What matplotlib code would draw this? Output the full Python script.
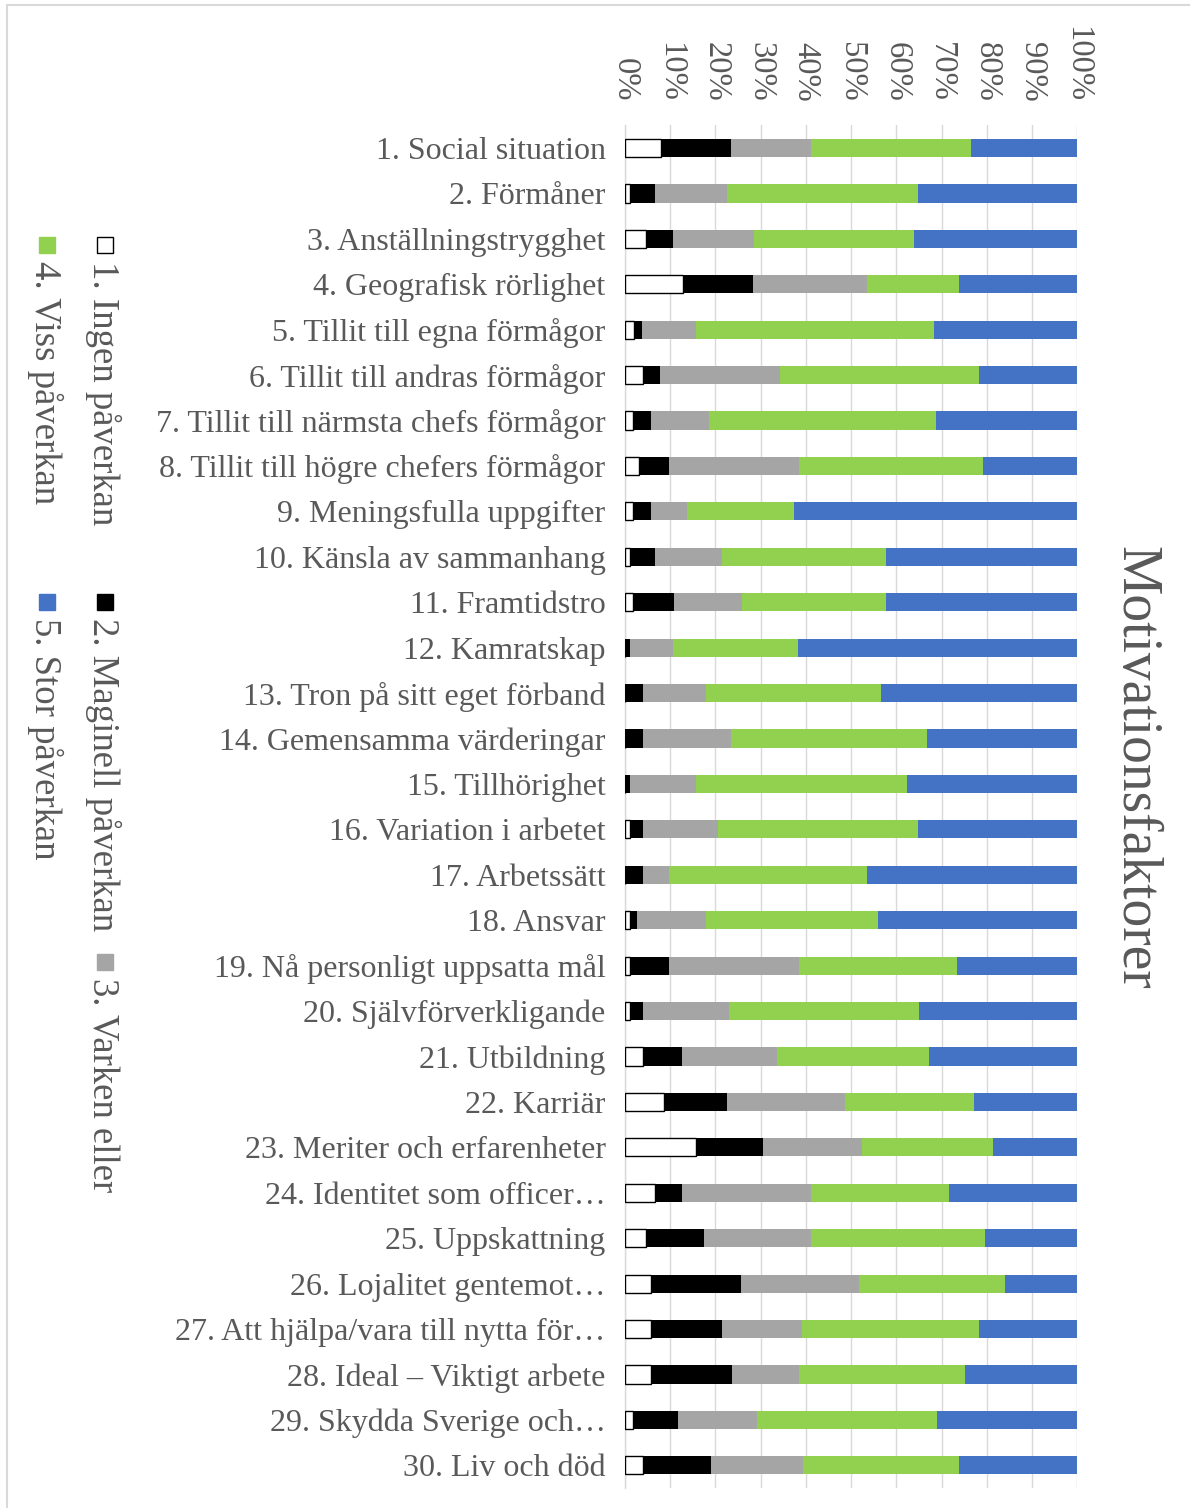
import numpy as np
import matplotlib
matplotlib.use("Agg")
from matplotlib import pyplot as plt
from matplotlib.patches import Rectangle
from matplotlib.lines import Line2D

plt.rcParams['font.family'] = ['Liberation Serif', 'DejaVu Serif']

faktorer = [
    "1. Social situation", "2. Förmåner", "3. Anställningstrygghet",
    "4. Geografisk rörlighet", "5. Tillit till egna förmågor",
    "6. Tillit till andras förmågor", "7. Tillit till närmsta chefs förmågor",
    "8. Tillit till högre chefers förmågor", "9. Meningsfulla uppgifter",
    "10. Känsla av sammanhang", "11. Framtidstro", "12. Kamratskap",
    "13. Tron på sitt eget förband", "14. Gemensamma värderingar",
    "15. Tillhörighet", "16. Variation i arbetet", "17. Arbetssätt",
    "18. Ansvar", "19. Nå personligt uppsatta mål", "20. Självförverkligande",
    "21. Utbildning", "22. Karriär", "23. Meriter och erfarenheter",
    "24. Identitet som officer…", "25. Uppskattning", "26. Lojalitet gentemot…",
    "27. Att hjälpa/vara till nytta för…", "28. Ideal – Viktigt arbete",
    "29. Skydda Sverige och…", "30. Liv och död",
]

# andel svar (%) per faktor
ingen = [7.9, 1.0, 4.6, 12.9, 1.9, 3.9, 1.8, 3.0, 1.8, 1.0, 1.8, 0, 0, 0, 0,
         1.0, 0, 1.0, 1.0, 1.0, 3.9, 8.7, 15.8, 6.7, 4.6, 5.8, 5.8, 5.8, 1.8, 3.9]
maginell = [15.5, 5.6, 6.0, 15.3, 1.9, 3.9, 4.0, 6.8, 4.0, 5.6, 9.1, 1.0, 3.9, 3.9, 1.0,
            2.9, 3.9, 1.7, 8.8, 2.9, 8.8, 13.9, 14.8, 6.0, 12.9, 19.9, 15.6, 17.9, 10.0, 15.2]
varken = [17.8, 15.9, 17.9, 25.4, 12.0, 26.5, 12.8, 28.7, 7.9, 14.8, 15.0, 9.7, 13.9, 19.6, 14.8,
          16.7, 5.9, 15.1, 28.7, 19.0, 21.0, 26.0, 21.9, 28.5, 23.7, 26.0, 17.7, 14.8, 17.3, 20.3]
viss = [35.2, 42.2, 35.3, 20.2, 52.6, 44.0, 50.1, 40.7, 23.7, 36.4, 31.9, 27.5, 38.7, 43.2, 46.5,
        44.1, 43.8, 38.1, 34.8, 42.1, 33.6, 28.6, 28.8, 30.4, 38.3, 32.3, 39.2, 36.7, 39.9, 34.4]
stor = [23.6, 35.3, 36.2, 26.2, 31.6, 21.7, 31.3, 20.8, 62.6, 42.2, 42.2, 61.8, 43.5, 33.3, 37.7,
        35.3, 46.4, 44.1, 26.7, 35.0, 32.7, 22.8, 18.7, 28.4, 20.5, 16.0, 21.7, 24.8, 31.0, 26.2]

serier = ["1. Ingen påverkan", "2. Maginell påverkan", "3. Varken eller",
          "4. Viss påverkan", "5. Stor påverkan"]
farger = ["#ffffff", "#000000", "#a5a5a5", "#92d050", "#4472c4"]

W, H = 1190, 1508
textfarg = "#595959"
gridfarg = "#d9d9d9"

fig = plt.figure(figsize=(W / 100, H / 100), dpi=100)


def fx(x):
    return x / W


def fy(y):
    return 1 - y / H


ax = fig.add_axes([fx(625), fy(1488), fx(1077.3) - fx(625), fy(125.3) - fy(1488)])

y = np.arange(len(faktorer))
vänster = np.zeros(len(faktorer))
for data, namn, farg in zip([ingen, maginell, varken, viss, stor], serier, farger):
    data = np.array(data, dtype=float)
    if farg == "#ffffff":
        ax.barh(y, data, left=vänster, height=0.4, color=farg, edgecolor="#000000",
                linewidth=1.0, label=namn, zorder=3)
    else:
        ax.barh(y, data, left=vänster, height=0.4, color=farg, linewidth=0,
                label=namn, zorder=3)
    vänster += data

ax.set_xlim(0, 100)
ax.set_ylim(len(faktorer) - 0.5, -0.5)
ax.set_xticks(np.arange(0, 101, 10))
ax.set_xticklabels([f"{v}%" for v in range(0, 101, 10)], rotation=-90)
ax.set_yticks(y)
ax.set_yticklabels(faktorer)
ax.xaxis.set_ticks_position("top")
ax.tick_params(axis="x", length=0, pad=17, labelsize=23.5, labelcolor=textfarg)
ax.tick_params(axis="y", length=0, pad=14, labelsize=23, labelcolor=textfarg)
ax.grid(axis="x", color=gridfarg, linewidth=1.0, zorder=0)
ax.set_axisbelow(True)
for s in ["top", "right", "bottom"]:
    ax.spines[s].set_visible(False)
ax.spines["left"].set_color(gridfarg)
ax.spines["left"].set_linewidth(1.0)

# titel, vriden
fig.text(fx(1121), fy(768), "Motivationsfaktorer", rotation=-90, rotation_mode="anchor",
         ha="center", va="baseline", fontsize=40, color=textfarg)

# förklaring till vänster, vriden
platser = [(105, 245), (105, 602), (105, 962), (47, 245), (47, 602)]
for (cx, cy), namn, farg in zip(platser, serier, farger):
    kant = "#000000" if farg == "#ffffff" else farg
    fig.add_artist(Rectangle((fx(cx - 8), fy(cy + 8)), 16 / W, 16 / H, facecolor=farg,
                             edgecolor=kant, linewidth=1.0, transform=fig.transFigure))
    fig.text(fx(cx - 12), fy(cy + 16), namn, rotation=-90, rotation_mode="anchor",
             ha="left", va="baseline", fontsize=26.5, color=textfarg)

# ram kring diagrammet
fig.add_artist(Line2D([fx(7), fx(7)], [0, fy(5)], color=gridfarg, linewidth=1.5,
                      transform=fig.transFigure))
fig.add_artist(Line2D([fx(7), 1], [fy(5), fy(5)], color=gridfarg, linewidth=1.5,
                      transform=fig.transFigure))

fig.savefig("out.png", dpi=100, facecolor="white")
